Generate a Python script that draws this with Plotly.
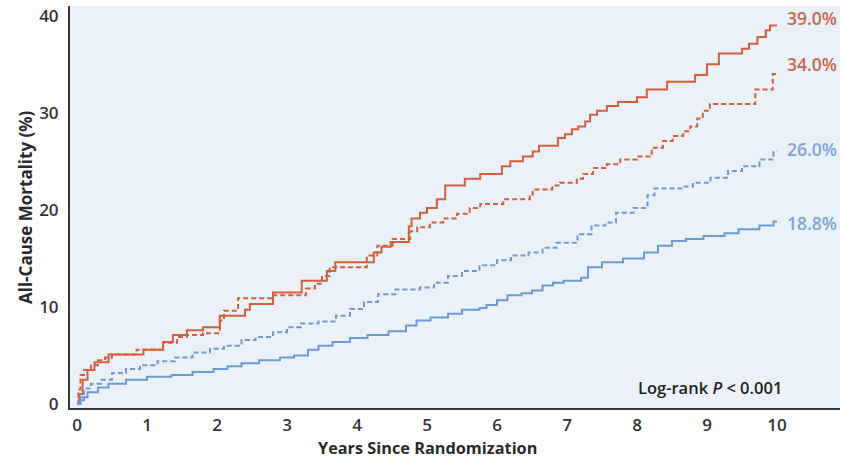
import plotly.graph_objects as go

# ---- data ----
red_solid_t = [0, 0.03, 0.08, 0.15, 0.25, 0.45, 0.95, 1.23, 1.37, 1.57, 1.8, 2.04, 2.40, 2.47, 2.8, 3.21,
               3.57, 3.69, 4.24, 4.35, 4.48, 4.74, 4.78, 4.9, 5.0, 5.14, 5.26, 5.54, 5.76, 6.07, 6.19, 6.37,
               6.51, 6.6, 6.87, 6.97, 7.07, 7.16, 7.26, 7.33, 7.43, 7.57, 7.73, 8.0, 8.14, 8.43, 8.83, 9.0,
               9.17, 9.5, 9.6, 9.72, 9.84, 9.9, 10.0]
red_solid_y = [0, 1.0, 2.5, 3.5, 4.3, 5.1, 5.6, 6.4, 7.1, 7.6, 7.9, 9.1, 9.7, 10.3, 11.5, 12.7,
               13.7, 14.6, 15.6, 16.2, 16.7, 18.3, 19.1, 19.7, 20.2, 21.1, 22.5, 23.2, 23.7, 24.5, 25.0, 25.5,
               26.0, 26.6, 27.4, 27.8, 28.3, 28.6, 29.1, 29.8, 30.2, 30.7, 31.1, 31.6, 32.4, 33.2, 33.9, 35.0,
               36.1, 36.6, 37.1, 37.8, 38.5, 39.0, 39.0]

red_dash_t = [0, 0.02, 0.05, 0.1, 0.2, 0.3, 0.4, 0.5, 0.85, 1.23, 1.43, 1.57, 1.8, 2.04, 2.1, 2.3, 2.8,
              3.27, 3.4, 3.5, 3.61, 4.14, 4.29, 4.51, 4.76, 4.86, 5.04, 5.23, 5.43, 5.61, 5.76, 6.09, 6.47,
              6.51, 6.79, 6.9, 7.14, 7.23, 7.37, 7.57, 7.76, 8.0, 8.21, 8.37, 8.51, 8.66, 8.76, 8.86, 8.94,
              9.04, 9.69, 9.94, 10.0]
red_dash_y = [0, 1.5, 3.0, 3.5, 4.0, 4.5, 4.8, 5.1, 5.6, 6.3, 6.9, 7.1, 7.3, 8.6, 9.6, 10.9, 11.2,
              11.9, 12.4, 13.2, 14.1, 15.3, 16.3, 17.0, 17.8, 18.2, 18.7, 19.1, 19.6, 20.2, 20.6, 21.1, 21.4,
              22.1, 22.5, 22.8, 23.2, 23.7, 24.3, 24.7, 25.2, 25.5, 26.4, 27.1, 27.6, 28.1, 28.6, 29.4, 30.2,
              30.9, 32.4, 34.0, 34.0]

blue_dash_t = [0, 0.02, 0.1, 0.2, 0.35, 0.5, 0.7, 0.9, 1.15, 1.4, 1.65, 1.9, 2.1, 2.35, 2.55, 2.8, 3.0,
               3.2, 3.45, 3.7, 3.9, 4.1, 4.3, 4.55, 4.9, 5.1, 5.3, 5.5, 5.75, 6.0, 6.2, 6.45, 6.65, 6.85,
               7.15, 7.35, 7.55, 7.7, 7.95, 8.15, 8.25, 8.65, 8.8, 9.05, 9.3, 9.5, 9.75, 9.95, 10.0]
blue_dash_y = [0, 0.4, 1.6, 2.1, 2.5, 3.2, 3.6, 4.0, 4.4, 4.8, 5.3, 5.7, 6.0, 6.6, 6.9, 7.4, 7.9,
               8.3, 8.5, 9.1, 9.8, 10.5, 11.3, 11.8, 12.0, 12.5, 13.2, 13.7, 14.3, 14.8, 15.3, 15.6, 16.1, 16.6,
               17.5, 18.4, 18.7, 19.7, 20.2, 21.5, 22.2, 22.4, 22.8, 23.3, 24.0, 24.5, 25.2, 26.0, 26.0]

blue_solid_t = [0, 0.05, 0.15, 0.3, 0.45, 0.7, 1.0, 1.35, 1.65, 1.95, 2.15, 2.35, 2.6, 2.9, 3.1, 3.3,
                3.45, 3.65, 3.9, 4.15, 4.45, 4.7, 4.85, 5.05, 5.3, 5.5, 5.75, 5.85, 6.0, 6.15, 6.35, 6.5,
                6.65, 6.8, 6.95, 7.2, 7.3, 7.5, 7.8, 8.1, 8.3, 8.5, 8.7, 8.95, 9.25, 9.45, 9.75, 9.95, 10.0]
blue_solid_y = [0, 0.7, 1.2, 1.7, 2.1, 2.5, 2.8, 3.0, 3.3, 3.6, 3.9, 4.2, 4.5, 4.8, 5.0, 5.6,
                6.0, 6.4, 6.8, 7.1, 7.5, 8.1, 8.6, 8.9, 9.3, 9.7, 9.9, 10.2, 10.7, 11.2, 11.4, 11.7,
                12.2, 12.5, 12.7, 13.0, 14.1, 14.6, 15.0, 15.6, 16.3, 16.8, 17.0, 17.3, 17.6, 18.0, 18.4, 18.8, 18.8]

end_labels = ["39.0%", "34.0%", "26.0%", "18.8%"]
x_ticks = list(range(0, 11))
y_ticks = [0, 10, 20, 30, 40]

RED = "#D75E3A"
BLUE = "#6E9BD3"
RED_TXT = "#C9684C"
BLUE_TXT = "#7DA5D8"
FONT = "Open Sans"

fig = go.Figure()
series = [
    (red_solid_t, red_solid_y, RED, "solid", RED_TXT, end_labels[0], 7),
    (red_dash_t, red_dash_y, RED, "5px,3px", RED_TXT, end_labels[1], 10),
    (blue_dash_t, blue_dash_y, BLUE, "5px,3px", BLUE_TXT, end_labels[2], 3),
    (blue_solid_t, blue_solid_y, BLUE, "solid", BLUE_TXT, end_labels[3], -1),
]
for t, y, col, dash, tcol, lab, ysh in series:
    fig.add_trace(go.Scatter(x=t, y=y, mode="lines", line=dict(color=col, width=2, dash=dash, shape="hv"),
                             showlegend=False, hoverinfo="skip"))
    fig.add_annotation(x=t[-1], y=y[-1], xref="x", yref="y", text=lab, showarrow=False,
                       xanchor="left", yanchor="middle", xshift=8, yshift=ysh,
                       font=dict(family=FONT, size=17.5, color=tcol, weight=600))

fig.add_annotation(x=9.04, y=1.74, xref="x", yref="y", text="Log-rank <i>P</i> &lt; 0.001",
                   showarrow=False, xanchor="center", yanchor="middle",
                   font=dict(family=FONT, size=16.5, color="#222222", weight=600))
fig.add_annotation(x=5.0, y=-0.099, xref="x", yref="paper", text="Years Since Randomization",
                   showarrow=False, xanchor="center", yanchor="middle",
                   font=dict(family=FONT, size=16.3, color="#2a2a2a", weight=700))
fig.add_annotation(x=-0.0584, y=0.5, xref="paper", yref="paper", text="All-Cause Mortality (%)",
                   showarrow=False, textangle=-90, xanchor="center", yanchor="middle",
                   font=dict(family=FONT, size=17, color="#2a2a2a", weight=700))

fig.update_layout(
    width=844, height=459,
    margin=dict(l=70, r=4, t=4, b=51),
    paper_bgcolor="white", plot_bgcolor="#EAF1F9",
    xaxis=dict(range=[-0.1, 10.9], tickvals=x_ticks, showgrid=False, zeroline=False,
               showline=True, linecolor="#3a3a3a", linewidth=2, ticks="", ticklabelstandoff=1,
               tickfont=dict(family=FONT, size=17, color="#333333", weight=600)),
    yaxis=dict(range=[-0.41, 41.0], tickvals=y_ticks, showgrid=False, zeroline=False,
               showline=True, linecolor="#3a3a3a", linewidth=2, ticks="", ticklabelstandoff=6,
               tickfont=dict(family=FONT, size=17, color="#333333", weight=600)),
)

fig.write_html("out.html")
